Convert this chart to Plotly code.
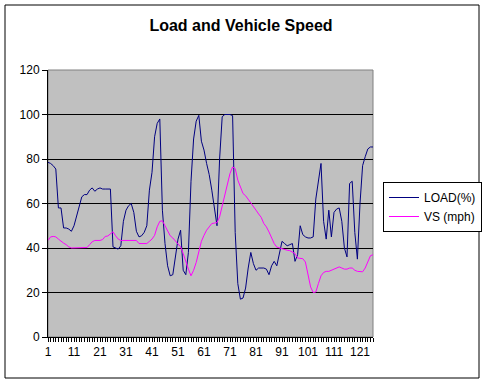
import plotly.graph_objects as go

categories = list(range(1, 127))

load_pct = [78.5, 78, 77, 75.5, 58, 58, 49, 49, 48.5, 47.5,
            50, 54.5, 59, 63, 64, 64, 66, 67, 65.5, 66.5,
            67, 66.5, 66.5, 66.5, 66.5, 40.5, 40, 39.5, 41, 52,
            57, 59, 60, 56, 47.5, 45, 45.5, 47, 50, 66,
            74, 90, 96, 98, 57, 42, 32, 27.5, 28, 35,
            44, 48, 30, 28, 38, 70, 89, 97, 99.6, 88,
            84, 78, 73, 66, 59, 50, 80, 99, 100, 100,
            100, 99.5, 47, 24, 17, 17.5, 22, 31, 38, 33,
            30, 31, 31, 31, 30.5, 28, 32, 34, 32, 38,
            43, 42, 41, 41.5, 42, 34, 37, 50, 46, 45,
            44.5, 44.5, 45, 62, 71, 78, 52, 44, 57, 45,
            56, 57.5, 58, 52, 40, 36, 69, 70, 47, 35,
            60, 77, 81, 84.5, 85.4, 85.4]

vs_mph = [43.4, 45, 45.2, 45, 44, 43, 42.2, 41.5, 40.5, 40,
          40, 40, 40, 40, 40, 40.2, 41.5, 42.8, 43.4, 43.4,
          43.4, 43.8, 45.2, 45.4, 46.5, 47.3, 45.5, 44, 43.4, 43.4,
          43.4, 43.4, 43.4, 43.4, 43.4, 42, 42, 42, 42, 43,
          44, 45.7, 49.5, 52, 52.2, 50, 47.5, 45.5, 44.5, 43,
          42, 40.5, 37.5, 33.5, 30.5, 27.5, 30, 33.5, 39, 43,
          45.7, 48, 49.5, 51, 51.2, 51.4, 54, 59, 64, 69,
          73.5, 76.4, 75.7, 70.5, 67, 64.5, 63.5, 62, 60.5, 58.5,
          57, 55.3, 53.8, 51, 49.5, 47.2, 44.8, 42, 40.4, 40,
          39.5, 39.3, 39, 38.8, 38.3, 37.5, 35.5, 35.2, 35.2, 33.7,
          28, 22.5, 20, 20.2, 24, 27.5, 29, 29.5, 29.5, 30,
          30.5, 31, 31.5, 31, 30.5, 30.5, 31, 31, 30, 29.5,
          29.3, 29.3, 31, 34, 36.5, 37]

x_ticks = list(range(1, 127, 10))
y_ticks = [0, 20, 40, 60, 80, 100, 120]

FONT = "Liberation Sans, Arial, sans-serif"

fig = go.Figure()
fig.add_trace(go.Scatter(x=categories, y=load_pct, mode="lines", name="LOAD(%)",
                         line=dict(color="#000080", width=1)))
fig.add_trace(go.Scatter(x=categories, y=vs_mph, mode="lines", name="VS (mph)",
                         line=dict(color="#FF00FF", width=1)))

L, R, T, B = 48, 373, 70, 337
W, H = 485, 384
pw, ph = R - L, B - T

def px(x):
    return (x - L) / pw

def py(y):
    return (B - y) / ph

fig.update_layout(
    width=W, height=H,
    margin=dict(l=L, r=W - R, t=T, b=H - B, pad=0, autoexpand=False),
    paper_bgcolor="white",
    plot_bgcolor="#C0C0C0",
    font=dict(family=FONT, size=12, color="black"),
    title=dict(text="<b>Load and Vehicle Speed</b>", x=241 / W, xref="container",
               xanchor="center", y=1 - 25 / H, yref="container", yanchor="middle",
               font=dict(family=FONT, size=16, color="black")),
    showlegend=True,
    legend=dict(x=px(383), y=py(182), xanchor="left", yanchor="top",
                bgcolor="white", bordercolor="black", borderwidth=1,
                font=dict(family=FONT, size=12, color="black"),
                tracegroupgap=0, itemwidth=30),
    xaxis=dict(range=[1, 126], tickmode="array", tickvals=x_ticks,
               ticktext=[str(v) for v in x_ticks],
               showgrid=False, zeroline=False, showline=True, linecolor="black",
               linewidth=1, ticks="outside", ticklen=4, tickcolor="black",
               minor=dict(dtick=1, tick0=1, ticks="outside", ticklen=4,
                          tickcolor="black", showgrid=False),
               tickfont=dict(family=FONT, size=12, color="black")),
    yaxis=dict(range=[0, 120], tickmode="array", tickvals=y_ticks,
               showgrid=True, gridcolor="black", gridwidth=1, zeroline=False,
               showline=True, linecolor="black", linewidth=1,
               ticks="outside", ticklen=5, tickcolor="black",
               tickfont=dict(family=FONT, size=12, color="black")),
    shapes=[
        dict(type="rect", xref="paper", yref="paper", x0=0, x1=1, y0=0, y1=1,
             line=dict(color="#808080", width=1), fillcolor="rgba(0,0,0,0)",
             layer="below"),
        dict(type="rect", xref="paper", yref="paper", x0=px(5), x1=px(479),
             y0=py(378), y1=py(5), line=dict(color="black", width=1),
             fillcolor="rgba(0,0,0,0)", layer="below"),
    ],
)

fig.write_html("out.html", config={"displayModeBar": False},
               post_script="document.body.style.margin='0';document.body.style.overflow='hidden';")
